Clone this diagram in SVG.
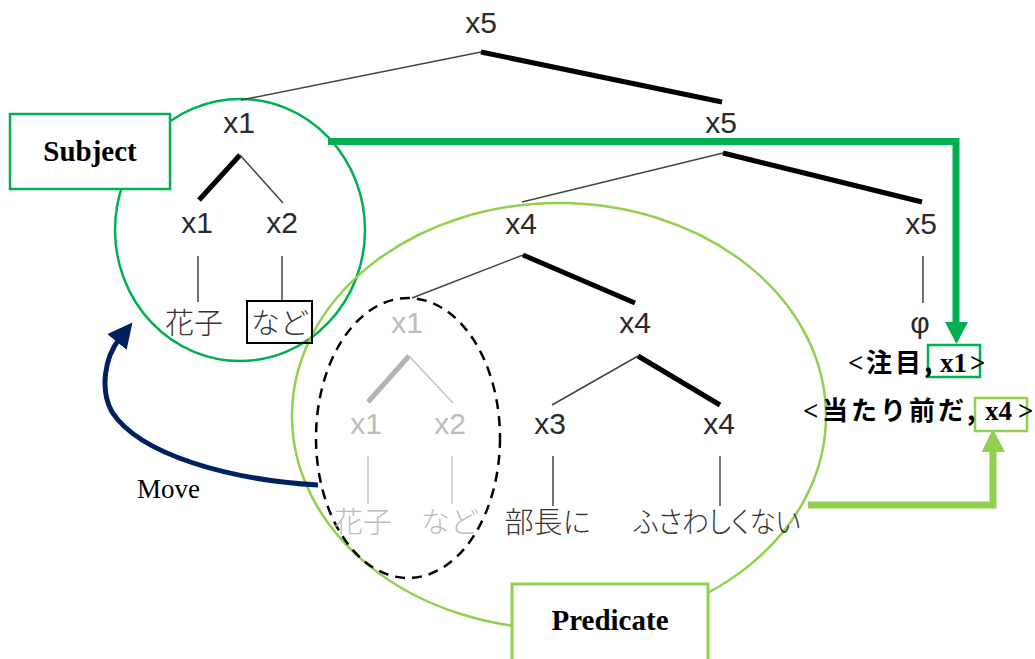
<svg xmlns="http://www.w3.org/2000/svg" width="1035" height="659" viewBox="0 0 1035 659">
  <style>
    .lbl { font-family: "Liberation Sans", Arial, sans-serif; font-size: 30px; fill: #2a2a2a; text-anchor: middle; }
    .jp { font-family: "Noto Sans CJK JP", sans-serif; font-weight: 300; font-size: 29px; fill: #333; text-anchor: middle; }
    .ghost { fill: #bcbcbc; }
    .thin { stroke: #444; stroke-width: 1.5; fill: none; }
    .thick { stroke: #000; stroke-width: 5; fill: none; }
    .gthin { stroke: #c4c4c4; stroke-width: 1.5; fill: none; }
    .gthick { stroke: #b4b4b4; stroke-width: 5; fill: none; }
    .tag { font-family: "Liberation Serif", "Times New Roman", serif; font-weight: bold; font-size: 29px; fill: #000; text-anchor: middle; }
    .tuple { font-family: "Liberation Serif", "Times New Roman", serif; font-weight: bold; font-size: 27px; fill: #000; }
    .tuplejp { font-family: "Noto Sans CJK JP", sans-serif; font-weight: bold; font-size: 26px; fill: #000; letter-spacing: 3px; }
  </style>
  <defs>
    <marker id="navyHead" markerWidth="5" markerHeight="5" refX="1" refY="2.5" orient="auto" markerUnits="strokeWidth">
      <path d="M0,0 L5,2.5 L0,5 Z" fill="#002060"/>
    </marker>
  </defs>

  <!-- subject / predicate regions -->
  <g id="subject-region">
    <ellipse cx="240" cy="230" rx="125" ry="131" fill="none" stroke="#00b050" stroke-width="2.5"/>
  </g>
  <g id="predicate-region">
    <ellipse cx="559" cy="416" rx="267" ry="213" fill="none" stroke="#92d050" stroke-width="2.5"/>
  </g>
  <g id="moved-constituent">
    <ellipse cx="408" cy="438" rx="92" ry="140" fill="none" stroke="#000" stroke-width="2.5" stroke-dasharray="10 7"/>
  </g>

  <!-- tree branches -->
  <g id="branches">
    <line class="thin" x1="481" y1="52" x2="241" y2="100"/>
    <line class="thick" x1="481" y1="52" x2="722" y2="102"/>
    <line class="thick" x1="240" y1="155" x2="199" y2="200"/>
    <line class="thin" x1="240" y1="155" x2="283" y2="203"/>
    <line class="thin" x1="198" y1="256" x2="198" y2="302"/>
    <line class="thin" x1="282" y1="256" x2="282" y2="302"/>
    <line class="thin" x1="723" y1="153" x2="522" y2="202"/>
    <line class="thick" x1="723" y1="153" x2="922" y2="202"/>
    <line class="thin" x1="923" y1="256" x2="923" y2="303"/>
    <line class="thin" x1="523" y1="255" x2="412" y2="298"/>
    <line class="thick" x1="523" y1="255" x2="635" y2="303"/>
    <line class="gthick" x1="409" y1="356" x2="368" y2="402"/>
    <line class="gthin" x1="409" y1="356" x2="453" y2="403"/>
    <line class="gthin" x1="368" y1="456" x2="368" y2="504"/>
    <line class="gthin" x1="452" y1="456" x2="452" y2="504"/>
    <line class="thin" x1="638" y1="356" x2="552" y2="405"/>
    <line class="thick" x1="638" y1="356" x2="720" y2="405"/>
    <line class="thin" x1="553" y1="456" x2="553" y2="506"/>
    <line class="thin" x1="720" y1="456" x2="720" y2="506"/>
  </g>

  <!-- tree nodes -->
  <g id="node-root"><text class="lbl" x="481" y="33">x5</text></g>
  <g id="node-x1-subj"><text class="lbl" x="239" y="133">x1</text></g>
  <g id="node-x5-vp"><text class="lbl" x="721" y="133">x5</text></g>
  <g id="node-x1-a"><text class="lbl" x="197" y="233">x1</text></g>
  <g id="node-x2-a"><text class="lbl" x="282" y="233">x2</text></g>
  <g id="node-hanako"><text class="jp" x="194" y="334">花子</text></g>
  <g id="node-nado">
    <rect x="247" y="301" width="65" height="42" fill="none" stroke="#000" stroke-width="2"/>
    <text class="jp" x="280" y="334">など</text>
  </g>
  <g id="node-x4-pred"><text class="lbl" x="521" y="234">x4</text></g>
  <g id="node-x5-top"><text class="lbl" x="921" y="234">x5</text></g>
  <g id="node-phi"><text class="lbl" x="920" y="333">φ</text></g>
  <g id="node-x1-trace"><text class="lbl ghost" x="407" y="333">x1</text></g>
  <g id="node-x4-mid"><text class="lbl" x="635" y="333">x4</text></g>
  <g id="node-x1-trace-a"><text class="lbl ghost" x="366" y="434">x1</text></g>
  <g id="node-x2-trace-a"><text class="lbl ghost" x="450" y="434">x2</text></g>
  <g id="node-x3"><text class="lbl" x="550" y="434">x3</text></g>
  <g id="node-x4-low"><text class="lbl" x="719" y="434">x4</text></g>
  <g id="node-hanako-trace"><text class="jp ghost" x="363" y="533">花子</text></g>
  <g id="node-nado-trace"><text class="jp ghost" x="450" y="533">など</text></g>
  <g id="node-buchouni"><text class="jp" x="548" y="533">部長に</text></g>
  <g id="node-fusawashikunai"><text class="jp" x="717" y="533" textLength="167" lengthAdjust="spacingAndGlyphs" style="font-feature-settings: 'palt'">ふさわしくない</text></g>

  <!-- labels -->
  <g id="label-subject">
    <rect x="10" y="114" width="160" height="75" fill="#fff" stroke="#00b050" stroke-width="2.5"/>
    <text class="tag" x="90" y="161">Subject</text>
  </g>
  <g id="label-predicate">
    <rect x="512" y="584" width="196" height="90" fill="#fff" stroke="#92d050" stroke-width="3"/>
    <text class="tag" x="610" y="630">Predicate</text>
  </g>

  <!-- focus tuples -->
  <g id="tuple-focus">
    <rect x="928" y="345" width="52" height="32" fill="none" stroke="#00b050" stroke-width="2.5"/>
    <text class="tuple" x="848" y="372">&lt;</text>
    <text class="tuplejp" x="866" y="372">注目,</text>
    <text class="tuple" x="940" y="372">x1</text>
    <text class="tuple" x="970" y="372">&gt;</text>
  </g>
  <g id="tuple-obvious">
    <rect x="975" y="398" width="52" height="33" fill="none" stroke="#92d050" stroke-width="2.5"/>
    <text class="tuple" x="803" y="420">&lt;</text>
    <text class="tuplejp" x="822" y="420">当たり前だ,</text>
    <text class="tuple" x="985" y="420">x4</text>
    <text class="tuple" x="1018" y="420">&gt;</text>
  </g>

  <!-- connectors -->
  <g id="connectors">
    <path d="M328,141.5 H956 V324" fill="none" stroke="#00b050" stroke-width="7"/>
    <path d="M945,322 L968,322 L956.5,344 Z" fill="#00b050"/>
    <path d="M808,505 H993 V450" fill="none" stroke="#92d050" stroke-width="7"/>
    <path d="M981.5,452 L1005,452 L993,429 Z" fill="#92d050"/>
    <path d="M318,485 C230,480 140,455 112,412 C100,390 104,358 120,338" fill="none" stroke="#002060" stroke-width="5" marker-end="url(#navyHead)"/>
    <text x="137" y="498" font-family="Liberation Serif, Times New Roman, serif" font-size="27" fill="#000">Move</text>
  </g>
</svg>
